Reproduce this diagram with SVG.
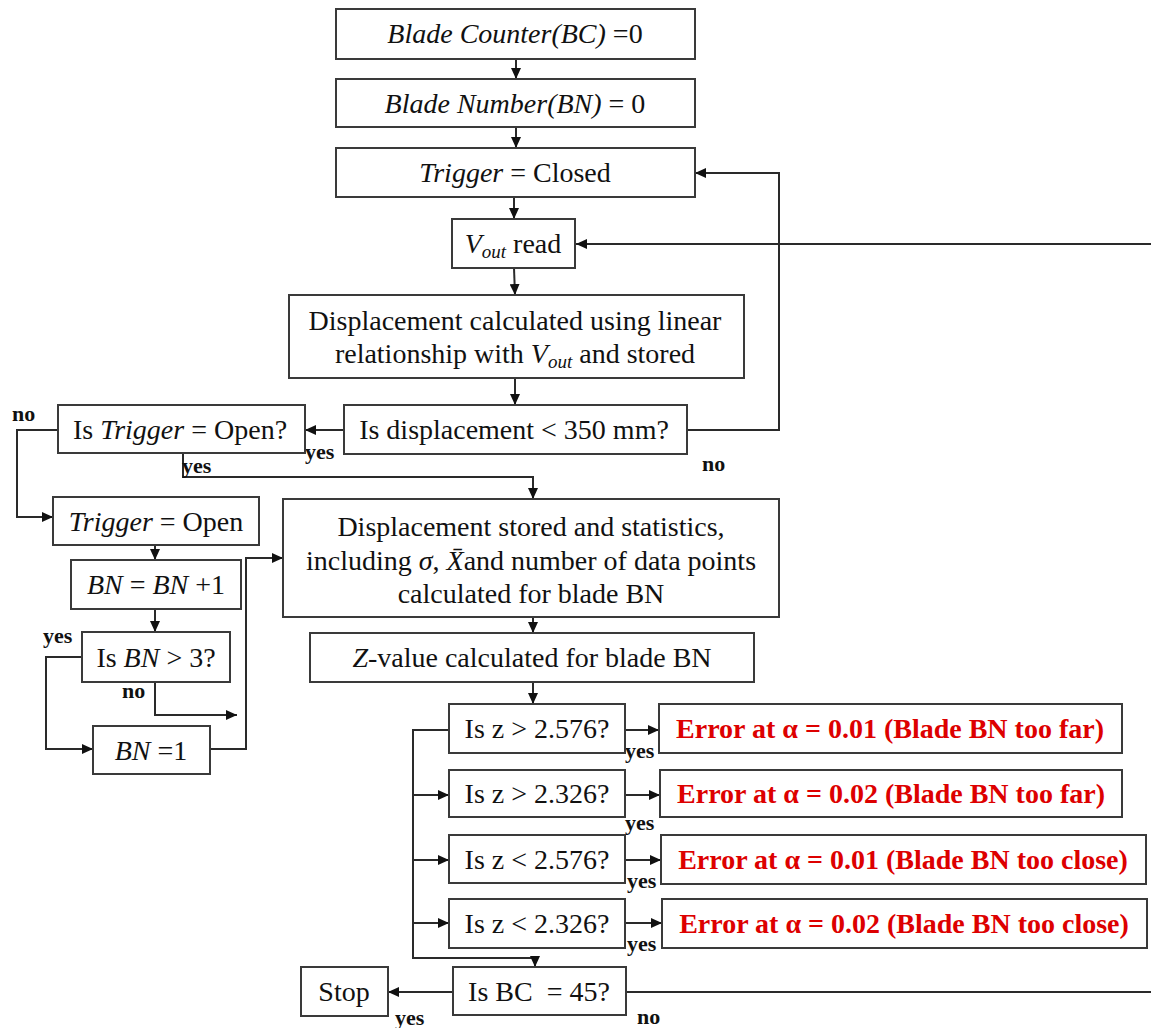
<svg xmlns="http://www.w3.org/2000/svg" width="1151" height="1028" viewBox="0 0 1151 1028">
<defs>
<marker id="ah" markerUnits="userSpaceOnUse" markerWidth="12" markerHeight="10" refX="11" refY="5" orient="auto">
<path d="M0,0 L11,5 L0,10 z" fill="#111"/>
</marker>
<style>
.box{fill:#fff;stroke:#3a3a3a;stroke-width:2}
.t{font-family:"Liberation Serif","Times New Roman",serif;font-size:28px;fill:#111;text-anchor:middle}
.i{font-style:italic}
.sub{font-style:italic;font-size:19px}
.err{font-family:"Liberation Serif","Times New Roman",serif;font-size:28px;font-weight:bold;fill:#dd0000;text-anchor:middle}
.lbl{font-family:"Liberation Serif","Times New Roman",serif;font-size:22px;font-weight:bold;fill:#111}
.c{fill:none;stroke:#2a2a2a;stroke-width:2}
.ca{fill:none;stroke:#2a2a2a;stroke-width:2;marker-end:url(#ah)}
</style>
</defs>
<rect width="1151" height="1028" fill="#fff"/>

<g id="connectors">
<path class="ca" d="M516,59 V79"/>
<path class="ca" d="M516,127 V148"/>
<path class="ca" d="M514,197 V219"/>
<path class="ca" d="M514,268 L515,295"/>
<path class="ca" d="M515,378 V405"/>
<path class="ca" d="M344,430 H305"/>
<path class="ca" d="M687,430 H779 V173 H695"/>
<path class="ca" d="M1151,244 H576"/>
<path class="ca" d="M58,430 H17 V517 H53"/>
<path class="ca" d="M183,453 V477 H533 V499"/>
<path class="ca" d="M155,543 V560"/>
<path class="ca" d="M155,609 V632"/>
<path class="ca" d="M82,657 H46 V749 H93"/>
<path class="ca" d="M155,682 V715 H237"/>
<path class="ca" d="M210,749 H246 V558 H283"/>
<path class="ca" d="M533,617 V633"/>
<path class="ca" d="M533,682 V704"/>
<path class="ca" d="M449,730 H413 V958 H535 V967"/>
<path class="ca" d="M413,795 H449"/>
<path class="ca" d="M413,860 H449"/>
<path class="ca" d="M413,923 H449"/>
<path class="ca" d="M625,730 H659"/>
<path class="ca" d="M625,795 H660"/>
<path class="ca" d="M625,860 H661"/>
<path class="ca" d="M625,923 H662"/>
<path class="ca" d="M453,992 H388"/>
<path class="c" d="M626,992 H1151"/>
</g>

<g id="labels">
<text class="lbl" x="12" y="421">no</text>
<text class="lbl" x="305" y="459">yes</text>
<text class="lbl" x="702" y="471">no</text>
<text class="lbl" x="182" y="473">yes</text>
<text class="lbl" x="43" y="643">yes</text>
<text class="lbl" x="122" y="698">no</text>
<text class="lbl" x="625" y="758">yes</text>
<text class="lbl" x="625" y="830">yes</text>
<text class="lbl" x="627" y="888">yes</text>
<text class="lbl" x="627" y="951">yes</text>
<text class="lbl" x="395" y="1025">yes</text>
<text class="lbl" x="637" y="1024">no</text>
</g>

<g id="n1"><rect class="box" x="336" y="9" width="359" height="50"/>
<text class="t" x="515" y="43"><tspan class="i">Blade Counter(BC)</tspan> =0</text></g>

<g id="n2"><rect class="box" x="336" y="79" width="359" height="48"/>
<text class="t" x="515" y="113"><tspan class="i">Blade Number(BN)</tspan> = 0</text></g>

<g id="n3"><rect class="box" x="336" y="148" width="359" height="49"/>
<text class="t" x="515" y="182"><tspan class="i">Trigger</tspan> = Closed</text></g>

<g id="n4"><rect class="box" x="452" y="219" width="123" height="49"/>
<text class="t" x="513" y="253"><tspan class="i">V</tspan><tspan class="sub" dy="5">out</tspan><tspan dy="-5"> read</tspan></text></g>

<g id="n5"><rect class="box" x="289" y="295" width="455" height="83"/>
<text class="t" x="515" y="330">Displacement calculated using linear</text>
<text class="t" x="515" y="363">relationship with <tspan class="i">V</tspan><tspan class="sub" dy="5">out</tspan><tspan dy="-5"> and stored</tspan></text></g>

<g id="n6"><rect class="box" x="344" y="405" width="343" height="49"/>
<text class="t" x="514" y="439">Is displacement &lt; 350 mm?</text></g>

<g id="n7"><rect class="box" x="58" y="405" width="247" height="48"/>
<text class="t" x="180" y="439">Is <tspan class="i">Trigger</tspan> = Open?</text></g>

<g id="n8"><rect class="box" x="53" y="497" width="206" height="48"/>
<text class="t" x="156" y="531"><tspan class="i">Trigger</tspan> = Open</text></g>

<g id="n9"><rect class="box" x="71" y="560" width="170" height="49"/>
<text class="t" x="156" y="594"><tspan class="i">BN</tspan> = <tspan class="i">BN</tspan> +1</text></g>

<g id="n10"><rect class="box" x="82" y="632" width="148" height="50"/>
<text class="t" x="156" y="667">Is <tspan class="i">BN</tspan> &gt; 3?</text></g>

<g id="n11"><rect class="box" x="93" y="726" width="117" height="48"/>
<text class="t" x="151" y="760"><tspan class="i">BN</tspan> =1</text></g>

<g id="n12"><rect class="box" x="283" y="499" width="496" height="118"/>
<text class="t" x="531" y="536">Displacement stored and statistics,</text>
<text class="t" x="531" y="570">including <tspan class="i">σ</tspan>, <tspan class="i">X̄</tspan>and number of data points</text>
<text class="t" x="531" y="603">calculated for blade BN</text></g>

<g id="n13"><rect class="box" x="310" y="633" width="444" height="49"/>
<text class="t" x="532" y="667"><tspan class="i">Z</tspan>-value calculated for blade BN</text></g>

<g id="n14"><rect class="box" x="449" y="704" width="176" height="49"/>
<text class="t" x="537" y="738">Is z &gt; 2.576?</text></g>
<g id="n15"><rect class="box" x="449" y="770" width="176" height="47"/>
<text class="t" x="537" y="803">Is z &gt; 2.326?</text></g>
<g id="n16"><rect class="box" x="449" y="835" width="176" height="48"/>
<text class="t" x="537" y="869">Is z &lt; 2.576?</text></g>
<g id="n17"><rect class="box" x="449" y="899" width="176" height="49"/>
<text class="t" x="537" y="933">Is z &lt; 2.326?</text></g>

<g id="n18"><rect class="box" x="659" y="704" width="463" height="49"/>
<text class="err" x="890" y="738">Error at α = 0.01 (Blade BN too far)</text></g>
<g id="n19"><rect class="box" x="660" y="770" width="462" height="47"/>
<text class="err" x="891" y="803">Error at α = 0.02 (Blade BN too far)</text></g>
<g id="n20"><rect class="box" x="661" y="835" width="485" height="49"/>
<text class="err" x="903" y="869">Error at α = 0.01 (Blade BN too close)</text></g>
<g id="n21"><rect class="box" x="662" y="899" width="485" height="49"/>
<text class="err" x="904" y="933">Error at α = 0.02 (Blade BN too close)</text></g>

<g id="n22"><rect class="box" x="453" y="967" width="173" height="48"/>
<text class="t" x="539" y="1001" style="white-space:pre">Is BC  = 45?</text></g>

<g id="n23"><rect class="box" x="301" y="967" width="87" height="49"/>
<text class="t" x="344" y="1001">Stop</text></g>
</svg>
